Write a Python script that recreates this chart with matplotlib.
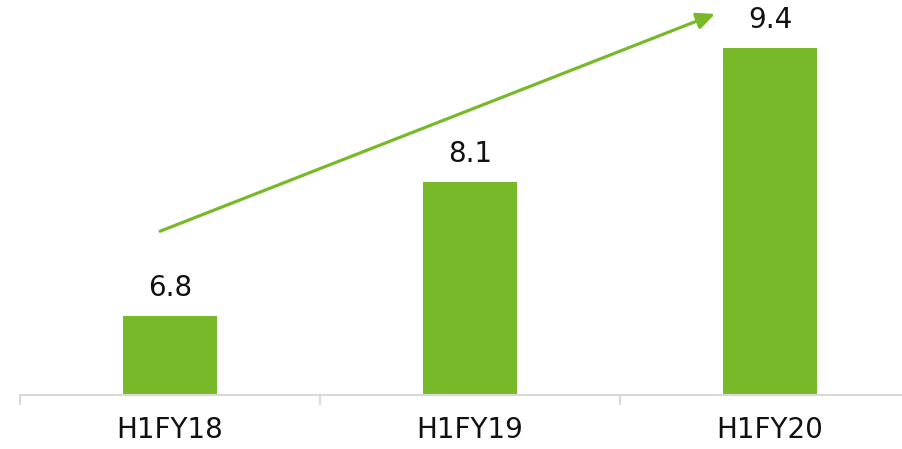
import matplotlib.pyplot as plt
import numpy as np

periods = ['H1FY18', 'H1FY19', 'H1FY20']
values = [6.8, 8.1, 9.4]

green = '#78B92A'
grey = '#D9D9D9'

fig = plt.figure(figsize=(9.02, 4.49), dpi=100)
# axis runs from 20px to past the right edge
ax = fig.add_axes([20/902, 54/449, 900/902, 395/449])

x = np.arange(len(periods))
ax.bar(x, values, width=0.313, color=green, zorder=2)

for xi, v in zip(x, values):
    ax.annotate(f'{v:.1f}', (xi, v), xytext=(0, 10), textcoords='offset points',
                ha='center', va='bottom', fontsize=20, color='#111111')

# growth arrow
ax.annotate('', xy=(1.817, 9.73), xytext=(-0.033, 7.62),
            arrowprops=dict(arrowstyle='-|>,head_length=1.1,head_width=0.5',
                            color=green, lw=2.3, shrinkA=0, shrinkB=0),
            annotation_clip=False)

ax.set_xlim(-0.5, 2.5)
ax.set_ylim(6.03, 9.865)

for s in ['top', 'right', 'left']:
    ax.spines[s].set_visible(False)
ax.spines['bottom'].set_color(grey)
ax.spines['bottom'].set_linewidth(1.5)

ax.set_yticks([])
ax.set_xticks(x)
ax.set_xticklabels(periods, fontsize=20, color='#111111')
ax.tick_params(axis='x', which='major', length=0, pad=15)
ax.set_xticks([-0.5, 0.5, 1.5, 2.5], minor=True)
ax.tick_params(axis='x', which='minor', length=7, width=1.5, color=grey)

fig.savefig('out.png', dpi=100)
